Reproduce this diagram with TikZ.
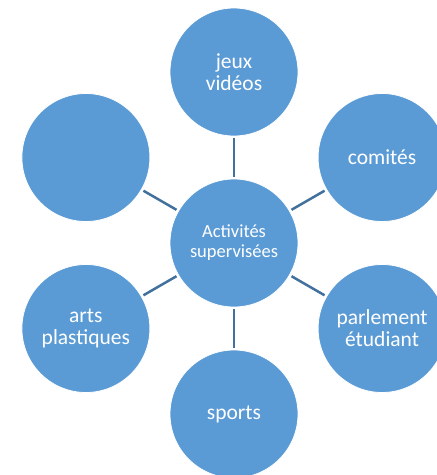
\documentclass[tikz,border=0pt]{standalone}
\usepackage{fontspec}
\setmainfont{Carlito}
\definecolor{bubble}{HTML}{5B9BD5}
\definecolor{linkc}{HTML}{41719C}
\tikzset{
  bub/.style={circle, fill=bubble, draw=white, line width=0.8pt, minimum size=128pt, inner sep=0pt, align=center, text=white, font=\fontsize{21.5}{22}\selectfont},
  hub/.style={bub, font=\fontsize{18.5}{20}\selectfont},
  link/.style={draw=linkc, line width=2.5pt, shorten <=2pt, shorten >=2pt}
}
\begin{document}
\begin{tikzpicture}[x=1pt,y=-1pt]
\useasboundingbox (0,0) rectangle (437,475);
\clip (0,0) rectangle (437,475);
\node[hub] (c) at (234,243) {Activités\\supervisées};
\node[bub] (t) at (234,72) {jeux\\vidéos};
\node[bub] (tr) at (382.1,157.5) {comités};
\node[bub] (br) at (382.1,328.5) {parlement\\étudiant};
\node[bub] (b) at (234,414) {sports};
\node[bub] (bl) at (85.9,328.5) {arts\\plastiques};
\node[bub] (tl) at (85.9,157.5) {};
\foreach \n in {t,tr,br,b,bl,tl} \draw[link] (c) -- (\n);
\end{tikzpicture}
\end{document}
